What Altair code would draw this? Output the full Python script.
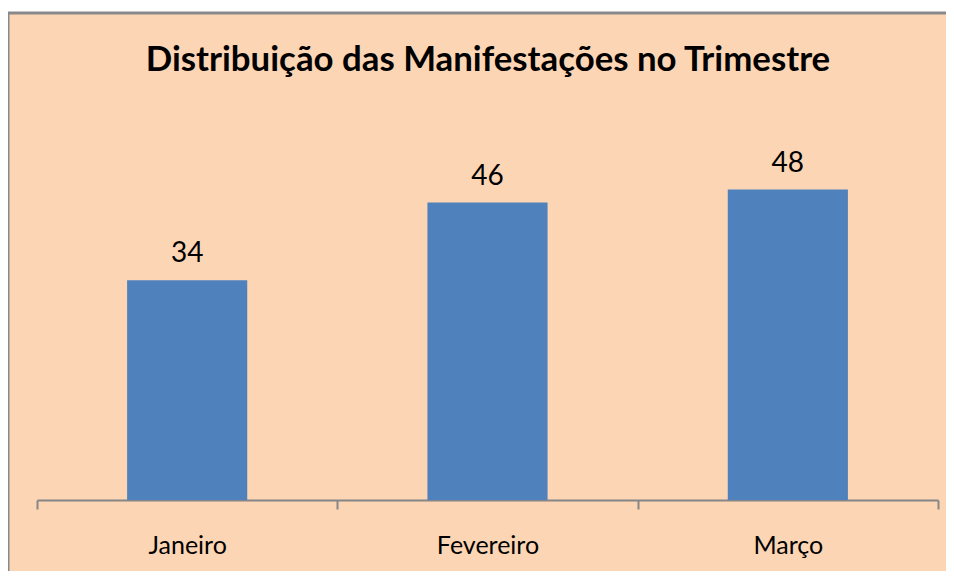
import altair as alt
import pandas as pd

months = ["Janeiro", "Fevereiro", "Março"]
values = [34, 46, 48]
title_text = "Distribuição das Manifestações no Trimestre"

df = pd.DataFrame({"mes": months, "valor": values})

W = 942
H = 562
AXIS_Y = 487

base = alt.Chart(df).encode(
    x=alt.X(
        "mes:N",
        sort=months,
        scale=alt.Scale(range=[29, 930], paddingInner=0, paddingOuter=0),
        axis=alt.Axis(
            title=None,
            orient="bottom",
            offset=-(H - AXIS_Y),
            tickBand="extent",
            domainColor="#868686",
            domainWidth=2,
            tickColor="#868686",
            tickWidth=2,
            tickSize=9,
            labelAngle=0,
            labelFont="Lato",
            labelFontSize=25,
            labelColor="black",
            labelPadding=24,
            grid=False,
        ),
    ),
    y=alt.Y("valor:Q", scale=alt.Scale(domain=[0, 60], range=[AXIS_Y, 99]), axis=None),
)

bars = base.mark_bar(width=alt.RelativeBandSize(0.4), color="#4F81BD")
labels = base.mark_text(
    dy=-18, baseline="alphabetic", font="Lato", fontSize=28, color="black"
).encode(text="valor:Q")

chart = (
    alt.layer(bars, labels)
    .properties(
        width=W,
        height=H,
        background="white",
        title=alt.TitleParams(
            title_text,
            font="Lato",
            fontSize=34.8,
            fontWeight="bold",
            color="black",
            anchor="middle",
            frame="group",
            baseline="alphabetic",
            offset=-93,
            dx=9,
        ),
        autosize=alt.AutoSizeParams(type="none"),
        padding={"left": 0, "top": 5, "right": -4, "bottom": -4},
    )
    .configure_view(fill="#FCD5B4", stroke="#898989", strokeWidth=3)
)

chart.save("out.html", embed_options={"renderer": "svg", "actions": False})
